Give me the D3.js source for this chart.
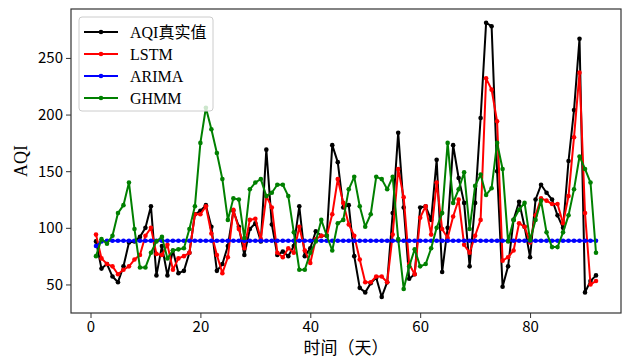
<!DOCTYPE html>
<html>
<head>
<meta charset="utf-8">
<script src="https://cdn.jsdelivr.net/npm/d3@7"></script>
<style>
html,body{margin:0;padding:0;background:#fff;}
svg{display:block;}
</style>
</head>
<body>
<div id="chart"></div>
<script>
const aqi = [88,64,68,57,52,66,87,88,92,100,119,58,84,58,80,60,62,78,112,115,
  120,101,62,68,84,115,101,76,99,104,88,169,103,76,79,75,84,119,75,82,
  97,93,93,173,158,118,120,75,47,43,51,56,39,52,113,184,118,55,59,118,
  119,107,160,61,100,173,144,122,66,122,197,281,278,150,48,66,107,123,101,74,
  125,138,131,125,111,100,159,204,267,43,53,58];
const lstm = [94,73,68,66,59,63,66,72,76,93,100,77,76,85,63,73,75,78,112,112,
  119,95,76,60,74,116,99,82,107,108,90,128,118,78,74,82,78,101,80,69,
  90,93,93,112,143,122,103,93,72,52,52,57,57,52,94,152,127,68,59,109,
  119,94,140,99,91,110,125,85,78,93,107,232,222,194,71,74,80,104,101,87,
  111,126,124,121,121,104,128,180,237,113,50,53];
const arima = [84,88,88.6,88.6,88.6,88.6,88.6,88.6,88.6,88.6,88.6,88.6,88.6,88.6,88.6,88.6,88.6,88.6,88.6,88.6,
  88.6,88.6,88.6,88.6,88.6,88.6,88.6,88.6,88.6,88.6,88.6,88.6,88.6,88.6,88.6,88.6,88.6,88.6,88.6,88.6,
  88.6,88.6,88.6,88.6,88.6,88.6,88.6,88.6,88.6,88.6,88.6,88.6,88.6,88.6,88.6,88.6,88.6,88.6,88.6,88.6,
  88.6,88.6,88.6,88.6,88.6,88.6,88.6,88.6,88.6,88.6,88.6,88.6,88.6,88.6,88.6,88.6,88.6,88.6,88.6,88.6,
  88.6,88.6,88.6,88.6,88.6,88.6,88.6,88.6,88.6,88.6,88.6,88.6];
const ghmm = [75,90,86,93,113,120,140,99,65,65,78,88,92,73,80,81,82,99,119,175,
  206,187,166,143,107,126,125,91,134,140,143,128,131,138,138,128,96,63,63,78,
  88,107,93,80,104,107,134,145,119,101,112,145,143,134,145,90,46,66,81,66,
  68,82,100,113,175,122,134,149,99,137,147,129,135,175,152,88,107,116,122,89,
  107,124,96,83,83,96,111,134,163,152,140,78];

const seriesNames = ["AQI真实值","LSTM","ARIMA","GHMM"];
const seriesColors = ["#000000","#ff0000","#0000ff","#008000"];
const seriesData = [aqi, lstm, arima, ghmm];
const xTicks = [0,20,40,60,80];
const yTicks = [50,100,150,200,250];
const xLabel = "时间（天）";
const yLabel = "AQI";

const W = 622, H = 359;
const m = {left:71, right:1, top:9, bottom:46};
const svg = d3.select("#chart").append("svg").attr("width",W).attr("height",H);

const n = aqi.length;
const x = d3.scaleLinear().domain([1 - 0.05*(n-1), n + 0.05*(n-1)]).range([m.left, W-m.right]);
const allV = seriesData.flat();
const vmin = 37, vmax = d3.max(allV);
const pad = 0.05*(vmax-vmin);
const y = d3.scaleLinear().domain([vmin-pad, vmax+pad]).range([H-m.bottom, m.top]);

const tickFont = "'Noto Sans CJK SC','Noto Sans',sans-serif";
const serifFont = "'Liberation Serif','Times New Roman',serif";

const xAxis = svg.append("g").attr("transform",`translate(0,${H-m.bottom})`)
  .call(d3.axisBottom(x).tickValues(xTicks).tickSize(5).tickPadding(3).tickFormat(d3.format("d")));
const yAxis = svg.append("g").attr("transform",`translate(${m.left},0)`)
  .call(d3.axisLeft(y).tickValues(yTicks).tickSize(5).tickPadding(3).tickFormat(d3.format("d")));
[xAxis,yAxis].forEach(g=>{
  g.select(".domain").remove();
  g.selectAll(".tick line").attr("stroke","#333").attr("stroke-width",1);
  g.selectAll(".tick text").attr("font-family",tickFont).attr("font-size",15).attr("fill","#000");
});

const line = d3.line().x((d,i)=>x(i+1)).y(d=>y(d));
const plot = svg.append("g");
seriesData.forEach((arr,k)=>{
  plot.append("path").datum(arr).attr("d",line).attr("fill","none")
    .attr("stroke",seriesColors[k]).attr("stroke-width",2).attr("stroke-linejoin","round");
  plot.selectAll(null).data(arr).enter().append("circle")
    .attr("cx",(d,i)=>x(i+1)).attr("cy",d=>y(d)).attr("r",2.3).attr("fill",seriesColors[k]);
});

// frame
svg.append("rect").attr("x",m.left).attr("y",m.top)
  .attr("width",W-m.right-m.left).attr("height",H-m.bottom-m.top)
  .attr("fill","none").attr("stroke","#333").attr("stroke-width",1.2);

// labels
svg.append("text").attr("x",(m.left+W-m.right)/2).attr("y",354)
  .attr("text-anchor","middle").attr("font-family",tickFont).attr("font-size",17).text(xLabel);
svg.append("text").attr("transform",`translate(27,${(m.top+H-m.bottom)/2}) rotate(-90)`)
  .attr("text-anchor","middle").attr("font-family",serifFont).attr("font-size",18).text(yLabel);

// legend
const lg = svg.append("g");
lg.append("rect").attr("x",79).attr("y",17).attr("width",134).attr("height",94).attr("rx",3)
  .attr("fill","#fff").attr("fill-opacity",0.8).attr("stroke","#cccccc").attr("stroke-width",1);
seriesNames.forEach((nm,k)=>{
  const yy = 32 + k*22;
  lg.append("line").attr("x1",84).attr("x2",118).attr("y1",yy).attr("y2",yy)
    .attr("stroke",seriesColors[k]).attr("stroke-width",2);
  lg.append("circle").attr("cx",101).attr("cy",yy).attr("r",2.3).attr("fill",seriesColors[k]);
  lg.append("text").attr("x",130).attr("y",yy+5.5).attr("font-family",serifFont+",'Noto Sans CJK SC'")
    .attr("font-size",16).text(nm);
});
</script>
</body>
</html>
